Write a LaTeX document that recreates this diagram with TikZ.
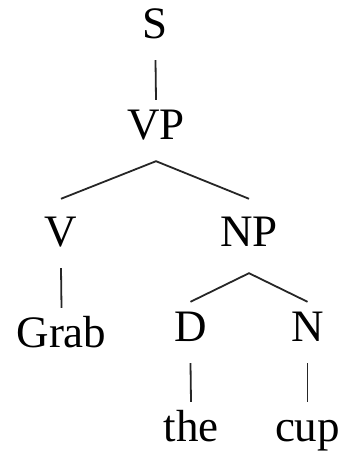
\documentclass[tikz,border=0pt]{standalone}
\usepackage{fontspec}
\setmainfont{Liberation Serif}
\usepackage{tikz}
\usetikzlibrary{calc}

\begin{document}
\begin{tikzpicture}[x=1pt,y=1pt,
    cat/.style={font=\fontsize{45}{54}\selectfont, inner sep=0pt, anchor=base,
                text height=40pt, text depth=21pt},
    mid/.style={cat, text height=48pt},
    branch/.style={line width=1.8pt, black!85}]
                \useasboundingbox (0,0) rectangle (347,457);
                \node[cat] (s) at (155.5,418) {S};
                \node[cat] (vp) at (156,317) {VP};
                \node[mid] (v) at (61,210) {V};
                \node[mid, text depth=26pt] (np) at (249,210) {NP};
                \node[cat] (grab) at (61.5,109) {Grab};
                \node[cat] (d) at (190.5,115) {D};
                \node[cat] (n) at (307.5,115) {N};
                \node[cat] (the) at (191,15) {the};
                \node[cat] (cup) at (307.5,15) {cup};
                \draw[branch] (s.south) -- (vp.north);
                \draw[branch] (v.north) -- (vp.south) -- (np.north);
                \draw[branch] (v.south) -- (grab.north);
                \draw[branch] (d.north) -- (np.south) -- (n.north);
                \draw[branch] (d.south) -- (the.north);
                \draw[branch] (n.south) -- (cup.north);
            \end{tikzpicture}
\end{document}
